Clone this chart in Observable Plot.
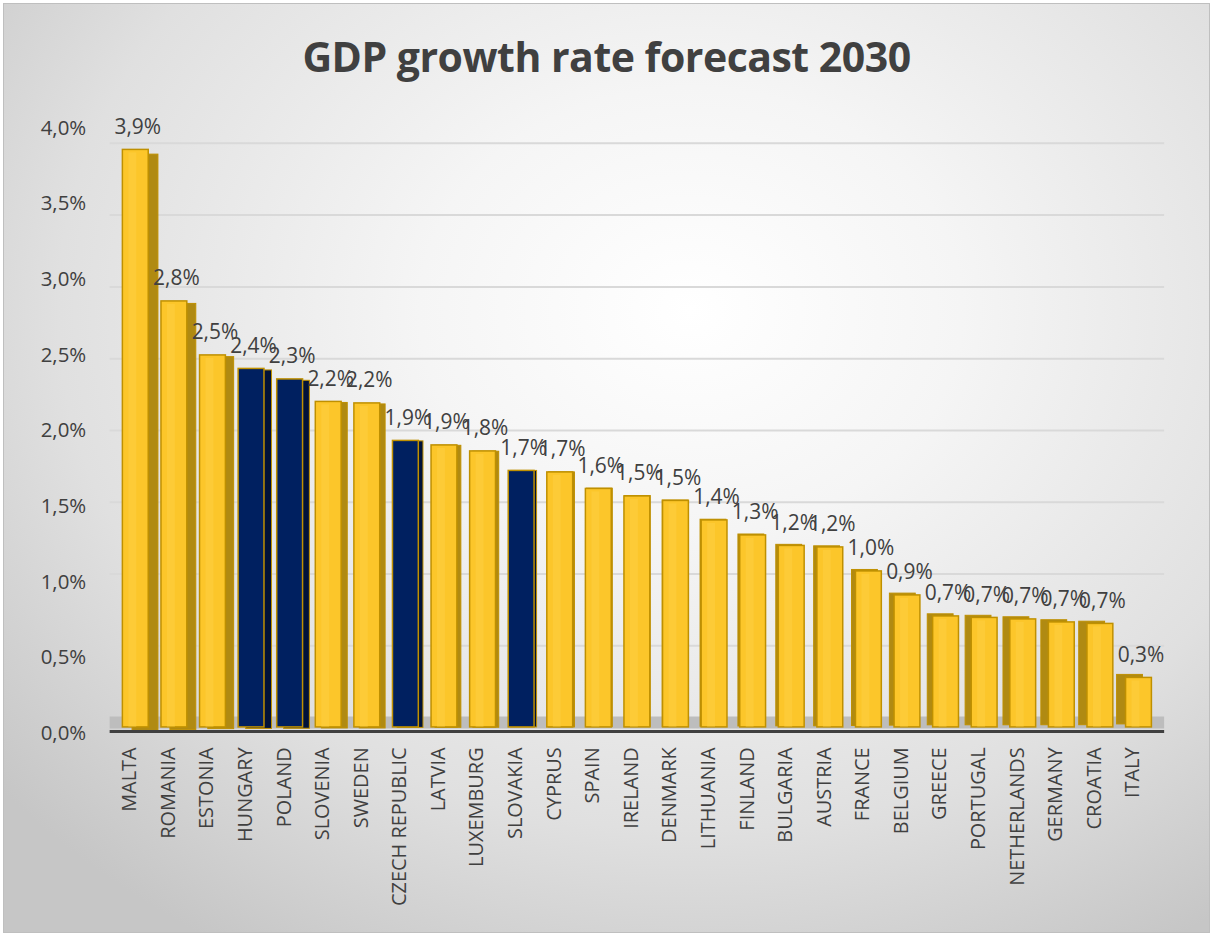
<!DOCTYPE html>
<html>
<head>
<meta charset="utf-8">
<script src="https://cdn.jsdelivr.net/npm/d3@7"></script>
<script src="https://cdn.jsdelivr.net/npm/@observablehq/plot@0.6"></script>
<style>
  html, body { margin: 0; padding: 0; background: #ffffff; }
  #frame {
    position: relative; width: 1207px; height: 930px; margin: 3px 0 0 3px;
    border: 1px solid #bfbfbf; box-sizing: border-box; overflow: hidden;
    background: radial-gradient(ellipse 75% 80% at 57% 33%, #ffffff 0%, #f5f5f5 30%, #e0e0e0 70%, #c6c6c6 100%);
    font-family: "Open Sans", sans-serif;
  }
  #title {
    position: absolute; left: 0; top: 24px; width: 100%; text-align: center;
    font-family: "Open Sans", sans-serif; font-weight: 700; font-size: 41px; color: #404040;
    letter-spacing: -0.5px;
  }
  #chart { position: absolute; left: -4px; top: 96px; }
</style>
</head>
<body>
<div id="frame">
  <div id="title">GDP growth rate forecast 2030</div>
  <div id="chart"></div>
</div>
<script>
const countries = ["MALTA","ROMANIA","ESTONIA","HUNGARY","POLAND","SLOVENIA","SWEDEN","CZECH REPUBLIC","LATVIA","LUXEMBURG","SLOVAKIA","CYPRUS","SPAIN","IRELAND","DENMARK","LITHUANIA","FINLAND","BULGARIA","AUSTRIA","FRANCE","BELGIUM","GREECE","PORTUGAL","NETHERLANDS","GERMANY","CROATIA","ITALY"];
const values = [3.85, 2.84, 2.48, 2.39, 2.32, 2.17, 2.16, 1.91, 1.88, 1.84, 1.71, 1.70, 1.59, 1.54, 1.51, 1.38, 1.28, 1.21, 1.20, 1.04, 0.88, 0.74, 0.73, 0.72, 0.70, 0.69, 0.33];
const highlighted = ["HUNGARY","POLAND","CZECH REPUBLIC","SLOVAKIA"];
const yTicks = [0, 0.5, 1.0, 1.5, 2.0, 2.5, 3.0, 3.5, 4.0];

const data = countries.map((c, i) => ({country: c, value: values[i], hl: highlighted.includes(c)}));
const fmt = v => d3.format(".1f")(v).replace(".", ",") + "%";

const gold = "#FCC62A", goldSide = "#B08A12", goldEdge = "#BF9000";
const navy = "#002060", navySide = "#00123A";

const marks = [];
// back-wall gridlines (slightly compressed, as in perspective)
marks.push(Plot.ruleY(yTicks.slice(1), {y: d => (10 + 144 * d) / 150.5, stroke: "#d9d9d9", strokeWidth: 2}));
// floor
marks.push(Plot.ruleY([0], {stroke: "#bdbdbd", strokeWidth: 12, dy: -5}));
// 3D side/back faces
data.forEach((d, i) => {
  const dx = (13.5 - i) * 0.72;
  const dy = (d.value - 1.7) * 2.2;
  marks.push(Plot.barY([d], {x: "country", y: "value", fill: d.hl ? navySide : goldSide, stroke: goldEdge, strokeWidth: 1, dx, dy}));
});
// front faces
marks.push(Plot.barY(data, {x: "country", y: "value", fill: d => d.hl ? navy : gold, stroke: goldEdge, strokeWidth: 1.5}));
// light inner strip on gold faces
marks.push(Plot.barY(data.filter(d => !d.hl), {x: "country", y: "value", fill: "#FFD54F", fillOpacity: 0.35, insetLeft: 6, insetRight: 12, insetTop: 3}));
// axis baseline
marks.push(Plot.ruleY([0], {stroke: "#404040", strokeWidth: 3, dy: 4}));
// data labels
marks.push(Plot.text(data, {x: "country", y: "value", text: d => fmt(d.value), dy: -23, dx: 2, fontSize: 21, fill: "#404040"}));
// y tick labels (placed on the front plane of the 3D box)
marks.push(Plot.text(yTicks, {y: d => (151.8 * d - 6) / 150.5, text: fmt, frameAnchor: "left", textAnchor: "end", dx: -24, fontSize: 20.5, fill: "#404040"}));
// x axis
marks.push(Plot.axisX({tickRotate: -90, tickSize: 0, tickPadding: 20, fontSize: 20, color: "#404040", label: null, dx: -6}));

const chart = Plot.plot({
  width: 1213,
  height: 836,
  marginLeft: 110,
  marginRight: 45,
  marginTop: 27,
  marginBottom: 207,
  style: {background: "transparent", fontFamily: "Open Sans, sans-serif", overflow: "visible"},
  x: {domain: countries, padding: 0.33, round: false, label: null, axis: null},
  y: {domain: [0, 4], label: null, axis: null},
  color: {type: "identity"},
  marks
});
document.getElementById("chart").appendChild(chart);
</script>
</body>
</html>
